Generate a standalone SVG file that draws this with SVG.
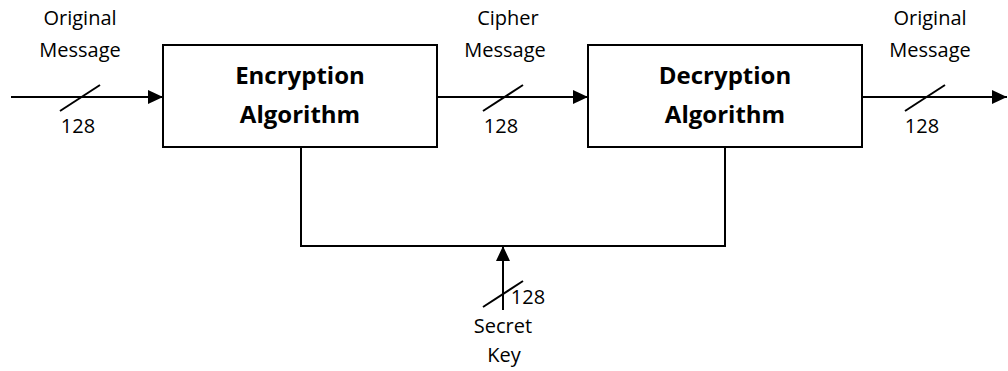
<svg xmlns="http://www.w3.org/2000/svg" width="1008" height="371" viewBox="0 0 1008 371">
<style>
.box{fill:#fff;stroke:#000;stroke-width:2}
.ln{fill:none;stroke:#000;stroke-width:2}
.sl{stroke:#000;stroke-width:2}
.t{font-family:"Open Sans","Liberation Sans",sans-serif;font-size:20px;fill:#000;text-anchor:middle}
.b{font-family:"Open Sans","Liberation Sans",sans-serif;font-size:24px;font-weight:bold;fill:#000;text-anchor:middle}
</style>
<defs>
<marker id="ah" markerWidth="15" markerHeight="14" refX="15" refY="7" orient="auto" markerUnits="userSpaceOnUse">
<path d="M0,0 L15,7 L0,14 Z" fill="#000"/>
</marker>
</defs>
<rect width="1008" height="371" fill="#fff"/>
<g id="connectors">
<line class="ln" x1="11" y1="97" x2="163" y2="97" marker-end="url(#ah)"/>
<line class="sl" x1="60" y1="111" x2="100" y2="85"/>
<line class="ln" x1="437" y1="97" x2="588" y2="97" marker-end="url(#ah)"/>
<line class="sl" x1="483" y1="111" x2="523" y2="85"/>
<line class="ln" x1="862" y1="97" x2="1007" y2="97" marker-end="url(#ah)"/>
<line class="sl" x1="905" y1="111" x2="945" y2="85"/>
<polyline class="ln" points="301,147 301,246 725,246 725,147"/>
<line class="ln" x1="503" y1="310" x2="503" y2="246" marker-end="url(#ah)"/>
<line class="sl" x1="483" y1="307" x2="523" y2="281"/>
</g>
<g id="labels">
<text class="t" x="80" y="25">Original</text>
<text class="t" x="80" y="57">Message</text>
<text class="t" x="78" y="133">128</text>
<text class="t" x="508" y="25">Cipher</text>
<text class="t" x="505" y="57">Message</text>
<text class="t" x="501" y="133">128</text>
<text class="t" x="930" y="25">Original</text>
<text class="t" x="930" y="57">Message</text>
<text class="t" x="922" y="133">128</text>
<text class="t" x="528" y="304">128</text>
<text class="t" x="503" y="333">Secret</text>
<text class="t" x="504" y="362">Key</text>
</g>
<g id="encryption">
<rect class="box" x="163" y="45" width="274" height="102"/>
<text class="b" x="300" y="84">Encryption</text>
<text class="b" x="300" y="123">Algorithm</text>
</g>
<g id="decryption">
<rect class="box" x="588" y="45" width="274" height="102"/>
<text class="b" x="725" y="84">Decryption</text>
<text class="b" x="725" y="123">Algorithm</text>
</g>
</svg>
